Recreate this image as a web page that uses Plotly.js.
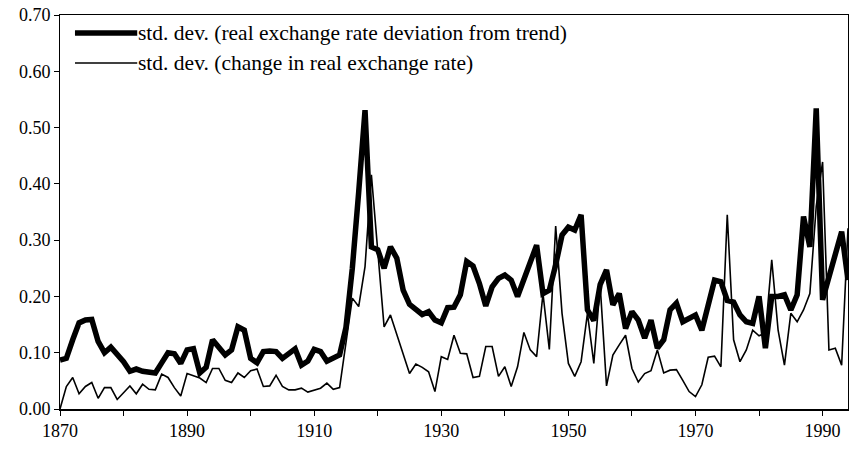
<!DOCTYPE html>
<html>
<head>
<meta charset="utf-8">
<script src="https://cdn.plot.ly/plotly-3.0.1.min.js"></script>
<style>
  html, body { margin: 0; padding: 0; background: #ffffff; }
  #chart { width: 850px; height: 449px; }
</style>
</head>
<body>
<div id="chart"></div>
<script>
// Years 1870..1994
const startYear = 1870;
const endYear = 1994;

// std. dev. (real exchange rate deviation from trend)
const devFromTrend = [
  0.087, 0.090, 0.123, 0.153, 0.158, 0.159, 0.120, 0.100, 0.110, 0.097,
  0.084, 0.067, 0.071, 0.067, 0.065, 0.064, 0.082, 0.100, 0.098, 0.081,
  0.105, 0.107, 0.064, 0.074, 0.123, 0.108, 0.096, 0.105, 0.146, 0.140,
  0.090, 0.082, 0.102, 0.103, 0.102, 0.090, 0.099, 0.107, 0.078, 0.085,
  0.106, 0.102, 0.085, 0.090, 0.096, 0.145, 0.250, 0.385, 0.531, 0.288,
  0.283, 0.250, 0.288, 0.268, 0.211, 0.186, 0.176, 0.168, 0.173, 0.158,
  0.153, 0.180, 0.181, 0.203, 0.262, 0.254, 0.223, 0.183, 0.217, 0.232,
  0.238, 0.229, 0.200, 0.232, 0.262, 0.291, 0.205, 0.211, 0.256, 0.309,
  0.323, 0.318, 0.345, 0.176, 0.157, 0.221, 0.247, 0.185, 0.205, 0.143,
  0.173, 0.158, 0.126, 0.158, 0.108, 0.123, 0.176, 0.188, 0.155, 0.161,
  0.167, 0.140, 0.182, 0.229, 0.226, 0.193, 0.190, 0.167, 0.155, 0.152,
  0.200, 0.108, 0.200, 0.200, 0.203, 0.176, 0.203, 0.342, 0.288, 0.534,
  0.194, 0.232, 0.274, 0.315, 0.229
];

// std. dev. (change in real exchange rate)
const changeInRate = [
  0.000, 0.040, 0.056, 0.027, 0.040, 0.047, 0.019, 0.038, 0.038, 0.017,
  0.029, 0.041, 0.027, 0.044, 0.035, 0.034, 0.062, 0.056, 0.038, 0.023,
  0.063, 0.059, 0.055, 0.047, 0.072, 0.072, 0.051, 0.047, 0.064, 0.056,
  0.068, 0.071, 0.040, 0.041, 0.060, 0.040, 0.034, 0.034, 0.037, 0.030,
  0.034, 0.037, 0.046, 0.035, 0.038, 0.120, 0.197, 0.182, 0.253, 0.416,
  0.278, 0.146, 0.167, 0.132, 0.097, 0.063, 0.080, 0.074, 0.066, 0.031,
  0.093, 0.088, 0.131, 0.099, 0.098, 0.056, 0.058, 0.111, 0.111, 0.058,
  0.075, 0.040, 0.075, 0.136, 0.105, 0.093, 0.205, 0.106, 0.325, 0.170,
  0.081, 0.058, 0.084, 0.170, 0.081, 0.220, 0.041, 0.096, 0.114, 0.131,
  0.072, 0.048, 0.063, 0.068, 0.105, 0.064, 0.069, 0.070, 0.051, 0.031,
  0.022, 0.043, 0.092, 0.094, 0.075, 0.345, 0.123, 0.084, 0.105, 0.140,
  0.130, 0.135, 0.265, 0.140, 0.078, 0.170, 0.155, 0.176, 0.205, 0.360,
  0.439, 0.105, 0.108, 0.078, 0.321
];

const xTickVals = [1870, 1880, 1890, 1900, 1910, 1920, 1930, 1940, 1950, 1960, 1970, 1980, 1990];
const xTickText = ['1870', '', '1890', '', '1910', '', '1930', '', '1950', '', '1970', '', '1990'];
const yTickVals = [0, 0.1, 0.2, 0.3, 0.4, 0.5, 0.6, 0.7];

const seriesNames = [
  'std. dev. (real exchange rate deviation from trend)',
  'std. dev. (change in real exchange rate)'
];
const lineWidths = [5.5, 1.6];

const years = [];
for (let y = startYear; y <= endYear; y++) years.push(y);

const FONT = 'Liberation Serif, Times New Roman, serif';

const traces = [devFromTrend, changeInRate].map((vals, i) => ({
  x: years, y: vals, type: 'scatter', mode: 'lines',
  name: seriesNames[i],
  line: { color: '#000000', width: lineWidths[i], shape: 'linear' },
  showlegend: false
}));

// Legend drawn in paper coordinates (sample lines + labels)
const legendRows = [0.954, 0.878];
const legendShapes = legendRows.map((yy, i) => ({
  type: 'line', xref: 'paper', yref: 'paper',
  x0: 0.019, x1: 0.098, y0: yy, y1: yy,
  line: { color: '#000000', width: lineWidths[i] }
}));
const legendLabels = legendRows.map((yy, i) => ({
  xref: 'paper', yref: 'paper', x: 0.098, y: yy,
  xanchor: 'left', yanchor: 'middle', showarrow: false,
  text: seriesNames[i], borderpad: 0,
  font: { family: FONT, size: 21.5, color: '#000000' }
}));

const layout = {
  width: 850, height: 449,
  margin: { l: 60, r: 2, t: 15, b: 40, pad: 0 },
  paper_bgcolor: '#ffffff',
  plot_bgcolor: '#ffffff',
  font: { family: FONT, size: 18, color: '#000000' },
  showlegend: false,
  shapes: legendShapes,
  annotations: legendLabels,
  xaxis: {
    range: [startYear, endYear],
    tickmode: 'array', tickvals: xTickVals, ticktext: xTickText,
    ticks: 'outside', ticklen: 5, tickwidth: 1, tickcolor: '#000000',
    showline: true, linecolor: '#000000', linewidth: 1.5, mirror: true,
    showgrid: false, zeroline: false,
    tickfont: { family: FONT, size: 18, color: '#000000' }
  },
  yaxis: {
    range: [0, 0.7],
    tickmode: 'array', tickvals: yTickVals, tickformat: '.2f',
    ticks: 'outside', ticklen: 5, tickwidth: 1, tickcolor: '#000000',
    showline: true, linecolor: '#000000', linewidth: 1, mirror: true,
    showgrid: false, zeroline: false,
    tickfont: { family: FONT, size: 18, color: '#000000' }
  }
};

Plotly.newPlot('chart', traces, layout, { displayModeBar: false, staticPlot: true });
</script>
</body>
</html>
